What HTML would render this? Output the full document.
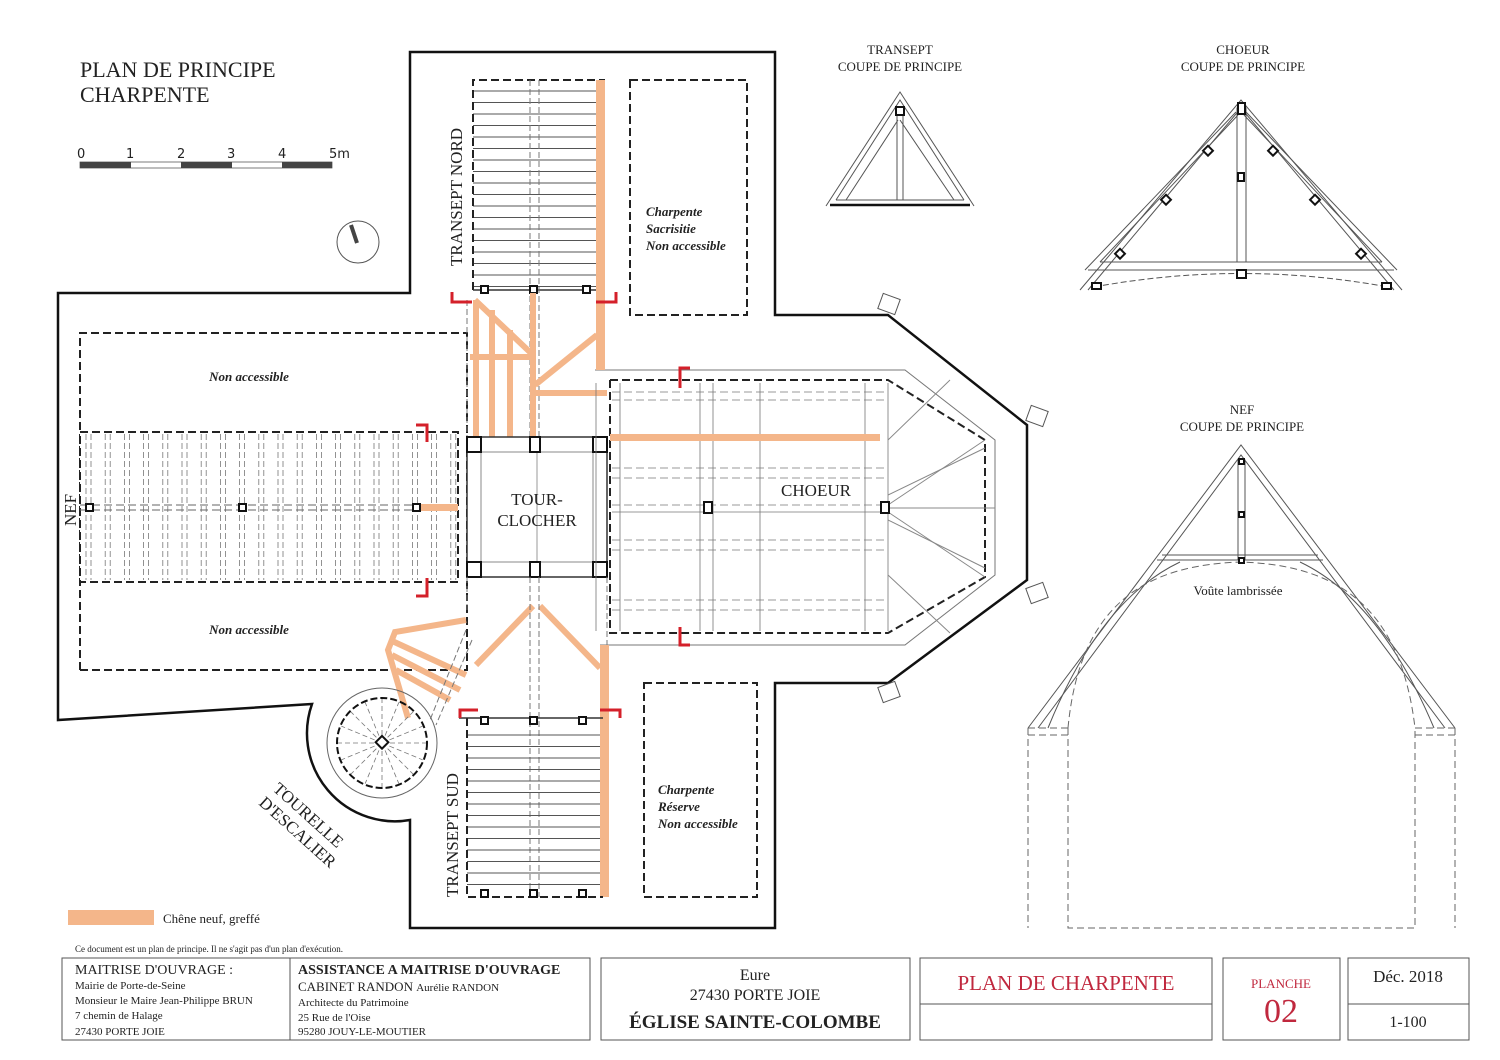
<!DOCTYPE html>
<html><head><meta charset="utf-8"><style>
html,body{margin:0;padding:0;background:#fff}
svg{display:block}
text{font-family:"Liberation Serif",serif;fill:#222}
</style></head><body>
<svg id="s" width="1500" height="1060" viewBox="0 0 1500 1060" xmlns="http://www.w3.org/2000/svg">
<path d="M58,720 L58,293 L410,293 L410,52 L775,52 L775,315 L888,315 L1027,425 L1027,580 L888,683 L775,683 L775,928 L410,928 L410,820 A88,88 0 0 1 312,704 Z" fill="none" stroke="#111" stroke-width="2.5"/>
<g fill="#fff" stroke="#555" stroke-width="1">
<rect x="880" y="296" width="18" height="16" transform="rotate(20 889 304)"/>
<rect x="1028" y="408" width="18" height="16" transform="rotate(20 1037 416)"/>
<rect x="1028" y="585" width="18" height="16" transform="rotate(-20 1037 593)"/>
<rect x="880" y="684" width="18" height="16" transform="rotate(-20 889 692)"/>
</g>
<path d="M595,370 L905,370 L995,440 L995,575 L905,645 L600,645" fill="none" stroke="#777" stroke-width="1"/>
<path d="M80,670 L80,333 L467,333 L467,670 L80,670" fill="none" stroke="#222" stroke-width="2" stroke-dasharray="8,4"/>
<rect x="80" y="432" width="378" height="150" fill="#fff" stroke="#222" stroke-width="2" stroke-dasharray="8,4"/>
<g id="nefr" stroke="#777" stroke-width="0.8" stroke-dasharray="6,3"></g>
<line x1="80" y1="505" x2="458" y2="505" stroke="#666" stroke-dasharray="8,4"/>
<line x1="80" y1="510" x2="458" y2="510" stroke="#666" stroke-dasharray="8,4"/>
<rect x="418" y="504" width="40" height="7" fill="#f4b68a"/>
<g fill="#fff" stroke="#111" stroke-width="2"><rect x="86" y="504" width="7" height="7"/><rect x="239" y="504" width="7" height="7"/><rect x="413" y="504" width="7" height="7"/></g>
<g id="ntr" stroke="#555" stroke-width="1"></g>
<path d="M473,290 L473,80 L605,80" fill="none" stroke="#222" stroke-width="2" stroke-dasharray="8,4"/>
<line x1="473" y1="290" x2="605" y2="290" stroke="#333" stroke-width="1.5"/>
<rect x="596" y="80" width="9" height="290" fill="#f4b68a"/>
<g stroke="#777" stroke-dasharray="6,3"><line x1="530" y1="80" x2="530" y2="437"/><line x1="539" y1="80" x2="539" y2="437"/><line x1="467" y1="300" x2="467" y2="437"/></g>
<g fill="#fff" stroke="#111" stroke-width="2"><rect x="481" y="286" width="7" height="7"/><rect x="530" y="286" width="7" height="7"/><rect x="583" y="286" width="7" height="7"/></g>
<g stroke="#f4b68a" stroke-width="6" fill="none">
<line x1="533" y1="293" x2="533" y2="437"/>
<line x1="475" y1="300" x2="533" y2="355"/>
<line x1="535" y1="385" x2="597" y2="335"/>
<line x1="470" y1="357" x2="533" y2="357"/>
<line x1="535" y1="393" x2="607" y2="393"/>
<line x1="476" y1="300" x2="476" y2="437"/>
<line x1="492" y1="310" x2="492" y2="437"/>
<line x1="510" y1="330" x2="510" y2="437"/>
</g>
<rect x="630" y="80" width="117" height="235" fill="none" stroke="#222" stroke-width="2" stroke-dasharray="8,4"/>
<text x="646" y="216" font-size="13" font-style="italic" font-weight="bold" fill="#444">Charpente</text>
<text x="646" y="233" font-size="13" font-style="italic" font-weight="bold" fill="#444">Sacrisitie</text>
<text x="646" y="250" font-size="13" font-style="italic" font-weight="bold" fill="#444">Non accessible</text>
<rect x="467" y="437" width="140" height="140" fill="#fff" stroke="#333" stroke-width="1.5"/>
<rect x="481" y="452" width="112" height="110" fill="none" stroke="#888"/>
<line x1="537" y1="437" x2="537" y2="577" stroke="#999"/>
<g fill="#fff" stroke="#111" stroke-width="2">
<rect x="467" y="437" width="14" height="15"/><rect x="530" y="437" width="10" height="15"/><rect x="593" y="437" width="14" height="15"/>
<rect x="467" y="562" width="14" height="15"/><rect x="530" y="562" width="10" height="15"/><rect x="593" y="562" width="14" height="15"/>
</g>
<text x="537" y="505" font-size="17" text-anchor="middle">TOUR-</text>
<text x="537" y="526" font-size="17" text-anchor="middle">CLOCHER</text>
<path d="M610,380 L888,380 L985,440 L985,577 L888,633 L610,633 Z" fill="none" stroke="#222" stroke-width="2" stroke-dasharray="8,4"/>
<g id="chr" stroke="#777" stroke-width="0.8"></g>
<rect x="610" y="434" width="270" height="7" fill="#f4b68a"/>
<g stroke="#888" stroke-width="1">
<line x1="888" y1="505" x2="985" y2="440"/><line x1="888" y1="512" x2="985" y2="577"/>
<line x1="888" y1="495" x2="985" y2="448"/><line x1="888" y1="520" x2="985" y2="568"/>
<line x1="888" y1="508" x2="995" y2="508"/>
<line x1="888" y1="440" x2="950" y2="380"/><line x1="888" y1="575" x2="950" y2="633"/>
</g>
<g fill="#fff" stroke="#111" stroke-width="2"><rect x="704" y="502" width="8" height="11"/><rect x="881" y="502" width="8" height="11"/></g>
<text x="816" y="496" font-size="17" text-anchor="middle">CHOEUR</text>
<g stroke="#f4b68a" stroke-width="6" fill="none">
<line x1="533" y1="606" x2="476" y2="665"/>
<line x1="540" y1="606" x2="600" y2="668"/>
<path d="M466,620 L395,632 L388,650 L408,718"/>
<line x1="390" y1="640" x2="466" y2="675"/>
<line x1="392" y1="655" x2="460" y2="690"/>
<line x1="396" y1="670" x2="450" y2="700"/>
</g>
<rect x="600" y="645" width="9" height="252" fill="#f4b68a"/>
<g stroke="#777" stroke-dasharray="6,3"><line x1="530" y1="577" x2="530" y2="897"/><line x1="539" y1="577" x2="539" y2="897"/><line x1="467" y1="577" x2="467" y2="610"/><line x1="607" y1="577" x2="607" y2="645"/><line x1="466" y1="630" x2="430" y2="720"/><line x1="472" y1="640" x2="436" y2="725"/></g>
<g id="str" stroke="#555" stroke-width="1"></g>
<path d="M467,718 L467,897 L603,897" fill="none" stroke="#222" stroke-width="2" stroke-dasharray="8,4"/>
<line x1="459" y1="718" x2="603" y2="718" stroke="#333" stroke-width="1.5"/>
<g fill="#fff" stroke="#111" stroke-width="2"><rect x="481" y="717" width="7" height="7"/><rect x="530" y="717" width="7" height="7"/><rect x="579" y="717" width="7" height="7"/><rect x="481" y="890" width="7" height="7"/><rect x="530" y="890" width="7" height="7"/><rect x="579" y="890" width="7" height="7"/></g>
<rect x="644" y="683" width="113" height="214" fill="none" stroke="#222" stroke-width="2" stroke-dasharray="8,4"/>
<text x="658" y="794" font-size="13" font-style="italic" font-weight="bold" fill="#444">Charpente</text>
<text x="658" y="811" font-size="13" font-style="italic" font-weight="bold" fill="#444">Réserve</text>
<text x="658" y="828" font-size="13" font-style="italic" font-weight="bold" fill="#444">Non accessible</text>
<circle cx="382" cy="743" r="55" fill="none" stroke="#666"/>
<circle cx="382" cy="743" r="45" fill="none" stroke="#111" stroke-width="2" stroke-dasharray="7,3"/>
<g id="tour" stroke="#777" stroke-width="0.8"></g>
<rect x="377" y="738" width="9" height="9" transform="rotate(45 382 743)" fill="#fff" stroke="#111" stroke-width="2"/>
<text font-size="17" transform="translate(272,790) rotate(42)">TOURELLE</text>
<text font-size="17" transform="translate(258,804) rotate(42)">D'ESCALIER</text>
<text x="249" y="381" font-size="13" font-style="italic" font-weight="bold" fill="#444" text-anchor="middle">Non accessible</text>
<text x="249" y="634" font-size="13" font-style="italic" font-weight="bold" fill="#444" text-anchor="middle">Non accessible</text>
<text font-size="17" transform="translate(76,526) rotate(-90)">NEF</text>
<text font-size="17" transform="translate(462,266) rotate(-90)">TRANSEPT NORD</text>
<text font-size="17" transform="translate(458,897) rotate(-90)">TRANSEPT SUD</text>
<g stroke="#d4202a" stroke-width="3" fill="none">
<path d="M452,292 L452,302 L472,302"/><path d="M616,292 L616,302 L596,302"/>
<path d="M416,425 L427,425 L427,442"/><path d="M416,596 L427,596 L427,578"/>
<path d="M690,368 L680,368 L680,388"/><path d="M690,645 L680,645 L680,627"/>
<path d="M478,710 L460,710 L460,718"/><path d="M600,710 L620,710 L620,718"/>
</g>
<text x="80" y="77" font-size="22">PLAN DE PRINCIPE</text>
<text x="80" y="102" font-size="22">CHARPENTE</text>
<g font-size="13"><text x="77" y="158" style="font-family:'DejaVu Sans',sans-serif">0</text><text x="126" y="158" style="font-family:'DejaVu Sans',sans-serif">1</text><text x="177" y="158" style="font-family:'DejaVu Sans',sans-serif">2</text><text x="227" y="158" style="font-family:'DejaVu Sans',sans-serif">3</text><text x="278" y="158" style="font-family:'DejaVu Sans',sans-serif">4</text><text x="329" y="158" style="font-family:'DejaVu Sans',sans-serif">5m</text></g>
<rect x="80" y="162" width="252" height="6" fill="#fff" stroke="#444" stroke-width="0.7"/>
<rect x="80" y="162" width="51" height="6" fill="#444"/><rect x="181" y="162" width="51" height="6" fill="#444"/><rect x="282" y="162" width="50" height="6" fill="#444"/>
<circle cx="358" cy="242" r="21" fill="none" stroke="#555"/>
<line x1="351" y1="225" x2="357" y2="243" stroke="#444" stroke-width="4"/>
<rect x="68" y="910" width="86" height="15" fill="#f4b68a"/>
<text x="163" y="923" font-size="13">Chêne neuf, greffé</text>
<text x="75" y="952" font-size="9">Ce document  est un plan de principe. Il ne s'agit pas d'un plan d'exécution.</text>
<g font-size="13" text-anchor="middle">
<text x="900" y="54">TRANSEPT</text><text x="900" y="71">COUPE DE PRINCIPE</text>
<text x="1243" y="54">CHOEUR</text><text x="1243" y="71">COUPE DE PRINCIPE</text>
<text x="1242" y="414">NEF</text><text x="1242" y="431">COUPE DE PRINCIPE</text>
</g>
<g fill="none" stroke="#555" stroke-width="1">
<path d="M826,206 L900,92 L974,206"/><path d="M836,200 L900,100 L964,200"/><path d="M846,200 L898,120 M900,120 L954,200"/>
<line x1="836" y1="200" x2="964" y2="200"/><rect x="897" y="110" width="6" height="90"/>
</g>
<line x1="830" y1="205" x2="970" y2="205" stroke="#111" stroke-width="2.5"/>
<rect x="896" y="107" width="8" height="8" fill="#fff" stroke="#111" stroke-width="2"/>
<g fill="none" stroke="#555" stroke-width="1">
<path d="M1080,290 L1241,100 L1402,290"/><path d="M1088,290 L1241,108 L1394,290"/>
<path d="M1100,262 L1238,115 M1244,115 L1382,262"/><path d="M1085,270 L1236,112 M1246,112 L1397,270"/>
<line x1="1100" y1="262" x2="1382" y2="262"/><line x1="1088" y1="270" x2="1394" y2="270"/>
<rect x="1237" y="108" width="9" height="154"/>
<path d="M1094,287 Q1241,260 1388,287" stroke-dasharray="6,3"/>
</g>
<g fill="#fff" stroke="#111" stroke-width="2">
<rect x="1238" y="103" width="7" height="11"/><rect x="1238" y="173" width="6" height="8"/><rect x="1237" y="270" width="9" height="8"/>
<rect x="1092" y="283" width="9" height="6"/><rect x="1382" y="283" width="9" height="6"/>
<rect x="1205" y="147" width="7" height="7" transform="rotate(45 1208 150)"/><rect x="1270" y="147" width="7" height="7" transform="rotate(45 1273 150)"/>
<rect x="1163" y="196" width="7" height="7" transform="rotate(45 1166 199)"/><rect x="1312" y="196" width="7" height="7" transform="rotate(45 1315 199)"/>
<rect x="1117" y="250" width="7" height="7" transform="rotate(45 1120 253)"/><rect x="1358" y="250" width="7" height="7" transform="rotate(45 1361 253)"/>
</g>
<g fill="none" stroke="#555" stroke-width="1">
<path d="M1028,728 L1241,445 L1455,728"/><path d="M1038,728 L1241,455 L1445,728"/>
<line x1="1162" y1="555" x2="1318" y2="555"/><line x1="1157" y1="560" x2="1323" y2="560"/>
<rect x="1238" y="460" width="7" height="100"/>
<path d="M1048,728 Q1100,600 1180,562 M1434,728 Q1380,600 1300,562"/>
</g>
<g fill="none" stroke="#666" stroke-width="1" stroke-dasharray="7,4">
<path d="M1068,728 C1080,600 1150,565 1241,562 C1330,565 1400,600 1415,728"/>
<path d="M1028,728 L1028,928 M1068,728 L1068,928 L1415,928 L1415,728 M1455,728 L1455,928 M1028,728 L1068,728 M1028,735 L1068,735 M1415,728 L1455,728 M1415,735 L1455,735"/>
</g>
<g fill="#fff" stroke="#111" stroke-width="2"><rect x="1239" y="459" width="5" height="5"/><rect x="1239" y="512" width="5" height="5"/><rect x="1239" y="558" width="5" height="5"/></g>
<text x="1238" y="595" font-size="13" text-anchor="middle">Voûte lambrissée</text>
<g fill="none" stroke="#555" stroke-width="1">
<rect x="62" y="958" width="528" height="82"/><line x1="290" y1="958" x2="290" y2="1040"/>
<rect x="601" y="958" width="309" height="82"/>
<rect x="920" y="958" width="292" height="82"/><line x1="920" y1="1004" x2="1212" y2="1004"/>
<rect x="1223" y="958" width="117" height="82"/>
<rect x="1348" y="958" width="121" height="82"/><line x1="1348" y1="1004" x2="1469" y2="1004"/>
</g>
<text x="75" y="974" font-size="14">MAITRISE D'OUVRAGE :</text>
<text x="75" y="989" font-size="11">Mairie de Porte-de-Seine</text>
<text x="75" y="1004" font-size="11">Monsieur le Maire Jean-Philippe BRUN</text>
<text x="75" y="1019" font-size="11">7 chemin de Halage</text>
<text x="75" y="1035" font-size="11">27430 PORTE JOIE</text>
<text x="298" y="974" font-size="14" font-weight="bold">ASSISTANCE A MAITRISE D'OUVRAGE</text>
<text x="298" y="991" font-size="13">CABINET RANDON <tspan font-size="11">Aurélie RANDON</tspan></text>
<text x="298" y="1006" font-size="11">Architecte du Patrimoine</text>
<text x="298" y="1021" font-size="11">25 Rue de l'Oise</text>
<text x="298" y="1035" font-size="11">95280  JOUY-LE-MOUTIER</text>
<text x="755" y="980" font-size="16" text-anchor="middle">Eure</text>
<text x="755" y="1000" font-size="16" text-anchor="middle">27430 PORTE JOIE</text>
<text x="755" y="1028" font-size="19" font-weight="bold" text-anchor="middle">ÉGLISE SAINTE-COLOMBE</text>
<text x="1066" y="990" font-size="21" text-anchor="middle" style="fill:#c0283e">PLAN DE CHARPENTE</text>
<text x="1281" y="988" font-size="13" text-anchor="middle" style="fill:#c0283e">PLANCHE</text>
<text x="1281" y="1022" font-size="34" text-anchor="middle" style="fill:#c0283e">02</text>
<text x="1408" y="982" font-size="17" text-anchor="middle">Déc. 2018</text>
<text x="1408" y="1027" font-size="16" text-anchor="middle">1-100</text>
</svg>
<script>
var NS="http://www.w3.org/2000/svg";
function L(g,x1,y1,x2,y2,extra){var l=document.createElementNS(NS,"line");l.setAttribute("x1",x1);l.setAttribute("y1",y1);l.setAttribute("x2",x2);l.setAttribute("y2",y2);if(extra)for(var k in extra)l.setAttribute(k,extra[k]);document.getElementById(g).appendChild(l);}
for(var x=86;x<456;x+=19.2){L("nefr",x,434,x,580);L("nefr",x+5,434,x+5,580);}
for(var y=91;y<290;y+=11.5){L("ntr",473,y,596,y);}
for(var y=735;y<895;y+=11.5){L("str",467,y,600,y);}
[[596,383,596,631],[620,383,620,631],[700,383,700,631],[713,383,713,631],[760,383,760,631],[865,383,865,631],[888,383,888,631]].forEach(function(a){L("chr",a[0],a[1],a[2],a[3]);});
[392,400,468,478,540,550,600,610].forEach(function(y){L("chr",612,y,885,y,{"stroke-dasharray":"8,4"});});
L("chr",612,505,885,505,{"stroke-dasharray":"8,4"});L("chr",612,512,885,512);
for(var a=0;a<16;a++){var t=a*Math.PI/8;L("tour",382,743,382+44*Math.cos(t),743+44*Math.sin(t),{"stroke-dasharray":"5,3"});}
</script>
</body></html>
